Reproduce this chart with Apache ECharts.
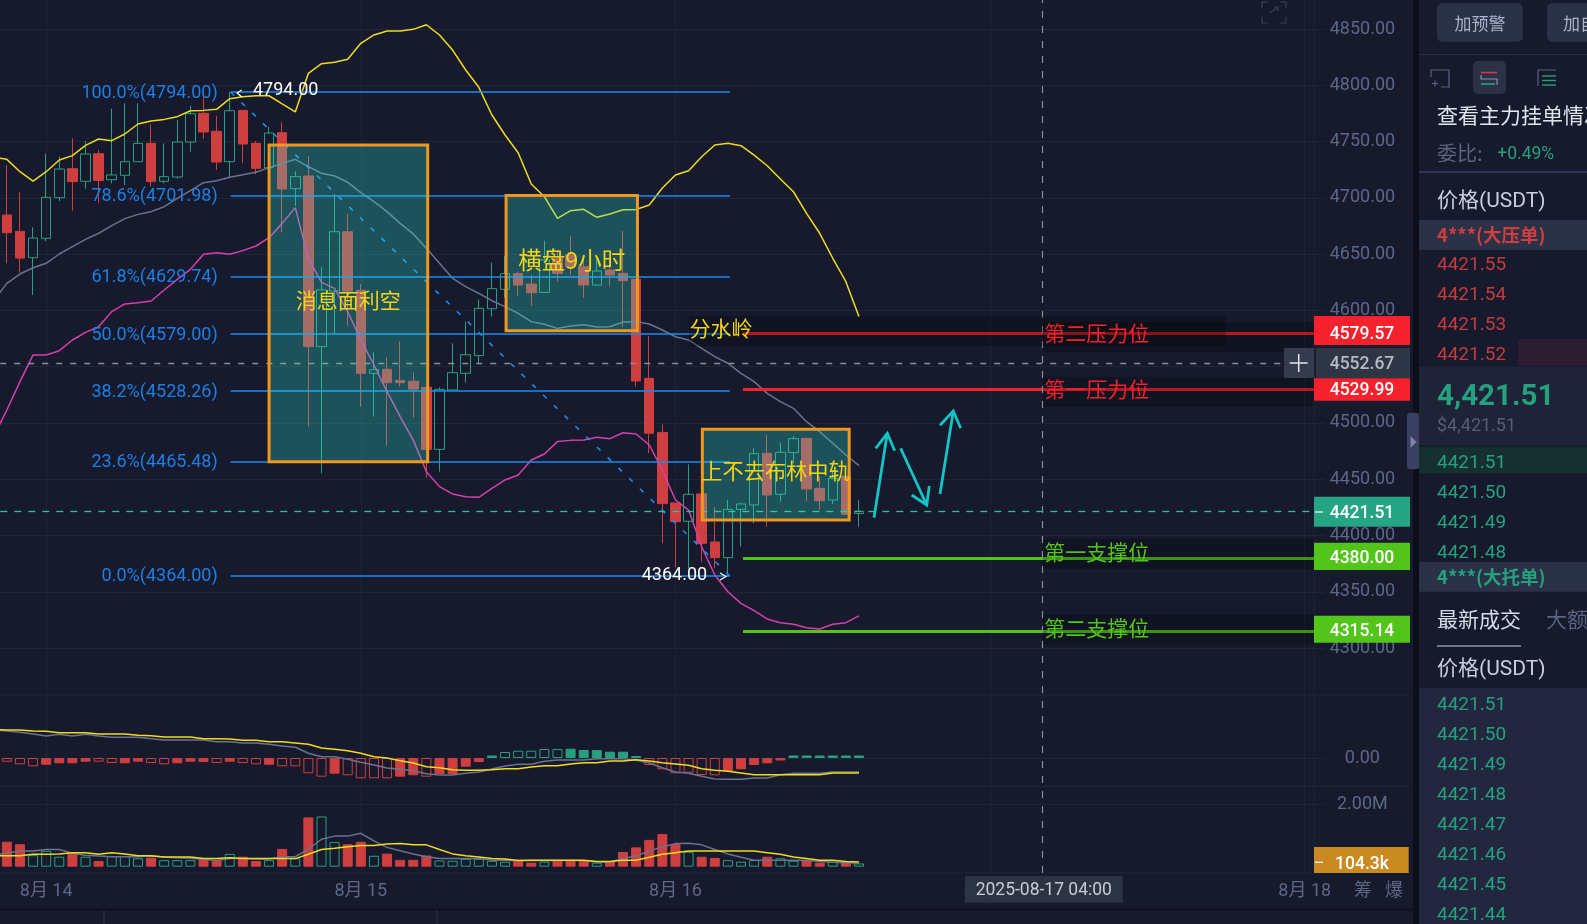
<!DOCTYPE html>
<html><head><meta charset="utf-8">
<style>html,body{margin:0;padding:0;background:#161a2c;overflow:hidden}#c{width:1587px;height:924px}</style>
<script src="https://cdn.jsdelivr.net/npm/echarts@6/dist/echarts.min.js"></script>
</head><body><div id="c"></div>
<script>
// ---- data ----
const tickIdx=[3,27,51,75,99];
const tickLabels=['8月 14','8月 15','8月 16','8月 17','8月 18'];
const opens=[4684.7,4670.2,4646.8,4664.0,4700.1,4725.9,4714.7,4739.2,4716.1,4720.0,4732.1,4748.4,4714.7,4718.5,4749.6,4775.1,4759.1,4732.1,4777.7,4748.4,4726.8,4757.9,4708.1,4719.4,4567.8,4617.2,4669.9,4617.8,4544.1,4547.6,4537.8,4537.0,4531.6,4476.5,4529.3,4544.1,4559.8,4601.5,4618.7,4632.6,4623.4,4616.0,4646.2,4649.2,4638.8,4622.5,4635.9,4632.9,4627.6,4539.6,4491.6,4428.9,4412.6,4436.9,4394.2,4380.3,4423.2,4427.1,4473.0,4436.6,4473.6,4486.3,4441.9,4431.5,4452.8,4419.5];
const closes=[4669.0,4646.5,4664.3,4700.4,4725.6,4714.4,4738.9,4715.5,4720.3,4732.1,4748.4,4714.4,4718.8,4749.6,4774.8,4758.5,4731.8,4777.4,4747.8,4726.2,4757.6,4707.8,4718.8,4567.8,4618.1,4669.9,4617.2,4544.1,4547.3,4535.8,4535.8,4530.1,4476.5,4529.8,4544.7,4560.6,4601.8,4619.3,4632.6,4622.5,4615.7,4644.8,4632.9,4638.8,4622.5,4635.0,4631.4,4626.4,4537.3,4490.8,4428.3,4412.3,4436.6,4393.0,4380.3,4423.2,4428.0,4472.7,4436.0,4473.9,4486.0,4441.3,4430.9,4450.8,4418.8,4421.51];
const lows=[4641.8,4633.5,4613.7,4661.6,4697.2,4688.6,4708.1,4695.1,4712.9,4711.4,4732.1,4709.9,4712.9,4717.0,4741.0,4752.3,4724.7,4718.2,4730.6,4720.9,4726.2,4669.3,4692.7,4496.7,4455.2,4579.6,4586.1,4514.4,4505.6,4479.5,4532.2,4504.7,4451.7,4456.7,4529.3,4535.8,4553.2,4594.4,4611.6,4612.8,4603.9,4615.7,4625.5,4631.4,4611.3,4622.5,4621.7,4585.5,4532.2,4473.0,4393.0,4371.7,4370.8,4376.7,4370.8,4364.0,4390.1,4410.8,4407.8,4430.0,4464.1,4430.6,4422.6,4428.0,4418.2,4407.8];
const highs=[4729.2,4704.9,4673.8,4738.9,4736.6,4752.9,4750.5,4742.5,4779.2,4784.0,4784.0,4765.3,4748.4,4769.1,4781.9,4789.3,4773.0,4794.0,4777.7,4750.5,4763.2,4767.1,4723.5,4737.2,4638.2,4703.4,4685.6,4623.4,4562.7,4558.3,4572.8,4544.9,4531.6,4531.6,4570.7,4590.0,4609.8,4642.4,4648.3,4634.4,4631.4,4661.9,4653.6,4666.1,4646.2,4644.8,4644.8,4670.5,4627.6,4577.2,4498.8,4428.9,4463.2,4436.9,4425.0,4431.5,4429.2,4477.4,4489.3,4482.5,4488.4,4486.3,4452.3,4458.2,4452.8,4431.5];
// the first value of each line belongs to the bar just off the left edge (bar -1)
const bollUpper=[4736,4734.2,4723.2,4714.9,4723.2,4733.6,4737.5,4746.6,4752.3,4750.8,4756.7,4765.6,4768.3,4769.7,4772.1,4777.4,4777.7,4778.6,4788.1,4789.8,4790.7,4790.7,4783.4,4776.3,4810.6,4819.2,4820.4,4823.1,4837.3,4844.7,4848.2,4848.2,4849.7,4853.8,4844.7,4831.3,4813.6,4798.2,4773.6,4755.8,4740.1,4712.3,4701.0,4681.8,4688.6,4689.8,4682.7,4685.6,4689.4,4689.6,4693.6,4708.7,4720.3,4724.1,4736.5,4746.9,4748.4,4746.3,4738.0,4728.5,4716.7,4705.4,4686.2,4668.5,4646.3,4625.5,4594.4];
const bollMid=[4609,4624.0,4632.3,4637.9,4641.8,4650.1,4656.6,4663.1,4668.5,4675.3,4681.5,4685.3,4687.7,4692.1,4699.5,4706.4,4713.5,4715.2,4718.2,4720.6,4722.7,4726.8,4730.6,4734.2,4727.7,4721.8,4719.4,4713.8,4704.6,4696.6,4687.7,4677.3,4667.9,4655.1,4641.8,4628.5,4621.1,4615.1,4608.6,4603.3,4597.4,4590.0,4587.6,4584.0,4586.1,4587.3,4585.2,4585.5,4589.7,4590.0,4587.9,4582.6,4576.6,4573.7,4566.3,4558.9,4553.0,4544.1,4536.7,4526.3,4518.9,4513.0,4501.1,4492.2,4481.9,4471.5,4462.0];
const bollLower=[4488,4511.5,4536.7,4560.4,4560.4,4564.2,4573.7,4580.5,4585.5,4598.9,4605.7,4606.8,4608.3,4618.1,4627.6,4636.5,4649.8,4651.3,4649.8,4653.1,4657.2,4664.6,4677.3,4691.3,4646.2,4624.9,4619.6,4598.9,4573.7,4551.5,4527.8,4505.6,4484.8,4456.7,4443.4,4436.9,4434.5,4433.9,4441.9,4449.3,4453.7,4467.1,4472.4,4483.4,4484.5,4484.8,4487.2,4486.0,4491.3,4490.2,4480.4,4458.2,4431.5,4422.6,4390.0,4364.9,4350.0,4339.7,4333.2,4325.8,4322.5,4321.1,4318.1,4316.9,4321.1,4322.5,4328.5];
const macdHist=[-3.7,-6.3,-8.3,-6.7,-5.3,-5.3,-3.7,-3.7,-5,-5.3,-3.7,-5,-6.3,-5.3,-3.7,-4,-5,-3.7,-5,-6.3,-6.7,-8.3,-8.3,-15.3,-18.7,-15.7,-17.3,-20.3,-20.3,-20.3,-18.7,-17.3,-18.7,-16,-16,-8.7,-4,2.5,6,7.3,7.3,9,9,9.3,8,8,6.3,6.3,2,-7,-11.3,-15.3,-14.7,-17,-17.3,-13,-11.3,-7,-5.3,-2.5,2.5,2.5,2.5,2.5,2.5,2.5];
const macdHollow=[1,1,1,0,0,0,0,1,1,0,0,1,1,0,0,0,1,0,1,1,0,1,1,1,1,0,1,1,1,1,0,0,1,0,0,0,0,0,1,1,1,1,1,0,0,0,0,0,0,1,1,1,1,1,1,0,0,0,0,0,0,0,0,0,0,0];
const dif=[28.5,28,28,27,26.7,25.3,25.3,25.3,24,24,24,22.7,22.3,21,21,21,19.3,19.3,19,17.7,17.7,16.3,16.3,15,13.7,10,8.7,7.3,4.7,1.3,0,-2.7,-5,-8.7,-9.7,-11.7,-12.3,-12.3,-11.7,-10.7,-10.7,-9,-7.7,-7.7,-6,-4.7,-4.7,-3,-3,-1.7,-3,-4.7,-6,-7.3,-10.7,-12.3,-13.3,-15,-16.7,-16.7,-16.7,-16.7,-16.7,-16.7,-15,-15,-15];
const dea=[28,27,25.7,24,22,23.7,22,23.7,22,20.7,20.7,20.7,19.3,18,18,18,18,16.3,16.3,15,15,13.7,12,10.7,4.7,1.3,1.3,-1.3,-4.3,-7,-10,-11.3,-12.7,-15.7,-17,-17,-15.3,-14,-11,-8,-6.3,-6.3,-3.3,-2,-2,-2,-0.7,-0.7,-0.7,-2,-5,-9.7,-14,-15.3,-18.3,-21,-21.3,-21.3,-20,-20,-16.7,-15.3,-15.3,-15.3,-14,-14,-14];
const volumes=[.80,.72,.37,.51,.32,.41,.32,.18,.34,.34,.27,.29,.21,.21,.21,.24,.21,.41,.32,.18,.21,.57,.27,1.58,1.61,.79,.72,.80,.35,.42,.22,.22,.36,.20,.19,.25,.25,.19,.16,.19,.13,.16,.18,.18,.21,.13,.18,.47,.62,.86,1.05,.73,.48,.32,.28,.21,.16,.21,.32,.27,.19,.21,.13,.16,.14,.104];
const volMa1=[.38,.43,.50,.50,.55,.55,.43,.37,.34,.32,.32,.32,.34,.31,.29,.27,.24,.20,.26,.26,.25,.25,.32,.32,.56,.88,.98,.98,1.07,.83,.62,.51,.41,.32,.26,.26,.26,.26,.21,.21,.20,.20,.20,.20,.20,.20,.15,.15,.26,.35,.50,.64,.74,.75,.70,.55,.41,.30,.21,.21,.21,.21,.21,.17,.14,.13,.11];
const volMa2=[.35,.35,.35,.40,.40,.41,.45,.45,.40,.45,.41,.35,.35,.31,.31,.31,.26,.26,.29,.26,.26,.26,.26,.26,.40,.55,.59,.64,.68,.68,.73,.74,.70,.70,.55,.41,.35,.31,.26,.25,.20,.21,.21,.21,.21,.21,.17,.17,.21,.21,.30,.40,.45,.50,.50,.50,.50,.50,.50,.45,.40,.31,.26,.21,.21,.17,.15];
const fibPrices=[4794,4701.98,4629.74,4579,4528.26,4465.48,4364];
const fibLabels=['100.0%(4794.00)','78.6%(4701.98)','61.8%(4629.74)','50.0%(4579.00)','38.2%(4528.26)','23.6%(4465.48)','0.0%(4364.00)'];
const levelPrices=[4579.57,4529.99,4380,4315.14];
const levelColors=['#f5222d','#f5222d','#52c41a','#52c41a'];
const lastPrice=4421.51, crossPrice=4552.67, crossIndex=79;
const askRows=['4421.55','4421.54','4421.53','4421.52'];
const bidRows=['4421.51','4421.50','4421.49','4421.48'];
const tradeRows=['4421.51','4421.50','4421.49','4421.48','4421.47','4421.46','4421.45','4421.44'];

const categories=[];
for(let i=0;i<101;i++){const h=21+i;const d=13+Math.floor(h/24);categories.push('08-'+d+' '+String(h%24).padStart(2,'0')+':00');}

// ---- styles ----
const BG='#161a2c',GRID='#1f2438',RED='#cf3f3f',GREEN='#26a17f',YEL='#f0dc1e',GRAY='#6b7390',PINK='#d740ab',FIB='#1a8cf0',AXIS='#5d6786',NOTE='#f5d414';
const FF='Roboto,"Noto Sans CJK SC",sans-serif';
const CJK='"Noto Sans CJK SC",Roboto,sans-serif';
const isTick=i=>tickIdx.includes(i);

const T=(text,x,y,o={})=>({type:'text',silent:true,z:o.z||50,style:{text,x,y:y+(o.f?0:2),fill:o.c||'#fff',font:(o.w||'normal')+' '+(o.s||18)+'px '+(o.f||FF),textAlign:o.a||'left',textVerticalAlign:'middle'}});
const R=(x,y,w,h,c,z=30,r=0)=>({type:'rect',silent:true,z,shape:{x,y,width:w,height:h,r},style:{fill:c}});
const P=(pts,c,lw=1.2,z=45)=>({type:'polyline',silent:true,z,shape:{points:pts},style:{stroke:c,lineWidth:lw,fill:null}});

const ARROW='#12c4c4';
const g=[
 // dark bands behind level lines
 R(689,316,537,30,'rgba(0,0,0,.25)',7),R(1043,322,271,30,'rgba(0,0,0,.25)',7),
 R(1043,376.7,271,29.5,'rgba(0,0,0,.25)',7),R(1043,539,271,30,'rgba(0,0,0,.25)',7),R(1043,614.5,271,30,'rgba(0,0,0,.25)',7),
 // dividers
 P([[1314,0],[1314,873]],GRID,1,1),P([[0,695],[1410,695]],GRID,1,1),P([[0,786.5],[1410,786.5]],GRID,1,1),P([[0,873],[1410,873]],GRID,1,1),
 P([[0,909.5],[1413,909.5]],'#0d101b',1.5,1),P([[104,910],[104,924]],'#2c3150',1,1),P([[437,910],[437,924]],'#2c3150',1,1),
 // expand icon
 P([[1262,8],[1262,2],[1268,2]],'#3a4157',1.2),P([[1280,2],[1286,2],[1286,8]],'#3a4157',1.2),P([[1262,17],[1262,23],[1268,23]],'#3a4157',1.2),P([[1280,23],[1286,23],[1286,17]],'#3a4157',1.2),P([[1270,13],[1278,7]],'#3a4157',1.2),P([[1274,7],[1278,7],[1278,11]],'#3a4157',1.2),
 // notes on chart
 T('消息面利空',348.3,300,{c:NOTE,s:21,f:CJK,a:'center'}),
 T('横盘9小时',571.7,260.3,{c:NOTE,s:23.5,f:CJK,a:'center'}),
 T('上不去布林中轨',775.5,471,{c:NOTE,s:21.2,f:CJK,a:'center'}),
 T('分水岭',721,328.3,{c:NOTE,s:21,f:CJK,a:'center'}),
 T('第二压力位',1096.8,333,{c:'#f5222d',s:21,f:CJK,a:'center'}),
 T('第一压力位',1096.8,389,{c:'#f5222d',s:21,f:CJK,a:'center'}),
 T('第一支撑位',1096.8,552.3,{c:'#52c41a',s:21,f:CJK,a:'center'}),
 T('第二支撑位',1096.8,627.7,{c:'#52c41a',s:21,f:CJK,a:'center'}),
 T('4794.00',253,88,{s:18}),T('4364.00',641.7,573,{s:18}),
 P([[241.7,90],[237,93],[241.7,96.7]],'#fff',1.2),P([[720,573],[726,576.5],[720,580]],'#fff',1.2),
 // arrows
 P([[874,517.7],[887.3,433.3]],ARROW,2.8),P([[875.7,448.3],[887.3,433.3],[894.7,450.7]],ARROW,2.8),
 P([[900.7,448.3],[926.7,505]],ARROW,2.8),P([[911.7,495],[926.7,505],[929.3,486]],ARROW,2.8),
 P([[940,494],[953.3,411]],ARROW,2.8),P([[940,425.3],[953.3,411],[960.7,428.3]],ARROW,2.8),
 // price tags
 R(1314,316,96,29,'#f5222d'),T('4579.57',1362,333,{a:'center',s:17.5,w:500}),
 R(1284,348,30,30,'#343b4d'),R(1316,348,94,30,'#2e3545'),T('4552.67',1362,363,{a:'center',s:17.5,c:'#b4bac8',w:500}),
 P([[1289.7,363],[1307.7,363]],'#e6e8ee',1.5),P([[1298.7,354],[1298.7,372]],'#e6e8ee',1.5),
 R(1314,378.3,96,22.4,'#f5222d',31),T('4529.99',1362,388.7,{a:'center',s:17.5,w:500}),
 R(1314,496.7,96,30,'#26a585'),P([[1315,512],[1323,512]],'#fff',1.2,46),T('4421.51',1362,511.7,{a:'center',s:17.5,w:500}),
 R(1314,542.7,96,27.3,'#52c41a'),T('4380.00',1362,557,{a:'center',s:17.5,w:500}),
 R(1314,615.7,96,27,'#52c41a'),T('4315.14',1362,630,{a:'center',s:17.5,w:500}),
 R(1314,847,94.7,26,'#c98a22'),P([[1315,862.3],[1323,862.3]],'#fff',1.2,46),T('104.3k',1362,862.3,{a:'center',s:17.5,w:500}),
 // crosshair time tag
 R(965,876,157.7,26.7,'rgba(46,53,69,.96)'),T('2025-08-17 04:00',1043.8,888.5,{a:'center',s:17.5,c:'#c5cbd8'}),
 T('筹',1363,889,{a:'center',s:18,c:'#5d6786',f:CJK}),T('爆',1394,889,{a:'center',s:18,c:'#5d6786',f:CJK}),
 // right panel
 R(1413,0,6,924,'#0c0f1a',60),R(1419,0,168,924,BG,60),
 R(1407,412.7,12,56.5,'#394061',61,3),{type:'polygon',silent:true,z:62,shape:{points:[[1410.5,436],[1416.5,442],[1410.5,448]]},style:{fill:'#7a84a5'}},
 R(1437,3.3,85.7,38.4,'#2b3147',61,5),T('加预警',1480,24,{a:'center',s:17,c:'#aab4cc',f:CJK,z:70}),
 R(1547,3.3,60,38.4,'#2b3147',61,5),T('加自选',1563,24,{s:17,c:'#aab4cc',f:CJK,z:70}),
 P([[1419,54.5],[1587,54.5]],'#2a3048',1,61),
 P([[1431,77],[1431,70],[1449,70],[1449,87],[1441,87]],'#5a6280',1.2,61),P([[1432,83.5],[1438,83.5]],'#5a6280',1.2,61),P([[1435,80.5],[1435,86.5]],'#5a6280',1.2,61),
 R(1473,61,33,33,'#2b3147',61,5),P([[1481,72.5],[1497,72.5]],'#cf3f3f',1.6,62),P([[1481,75],[1481,79],[1497,79],[1497,85]],'#8a93ab',1.2,62),P([[1481,84],[1495,84]],'#26a17f',1.6,62),
 P([[1538,86],[1538,70],[1556,70]],'#5a6280',1.2,61),P([[1542,76],[1556,76]],'#26a17f',1.4,61),P([[1542,80.5],[1556,80.5]],'#26a17f',1.4,61),P([[1542,85],[1556,85]],'#26a17f',1.4,61),
 T('查看主力挂单情况',1437,114.7,{s:21,c:'#dfe4ef',f:CJK,z:70}),
 T('委比:',1437,153,{s:20,c:'#5c6480',f:CJK,z:70}),T('+0.49%',1497.3,153,{s:17.5,c:GREEN,z:70}),
 P([[1419,172],[1587,172]],'#3a4160',1.5,61),
 T('价格(USDT)',1437,200,{s:21,c:'#c8cee0',z:70}),
 R(1419,220,168,30,'#2b3147',61),T('4***(大压单)',1437,235,{s:18.5,w:'bold',c:RED,f:CJK,z:70}),
 R(1518,339,69,26.7,'#2c1d30',61),
 R(1419,366.7,168,78.3,'#1e2337',61),T('4,421.51',1437,395.7,{s:29.5,w:'bold',c:GREEN,z:70}),T('$4,421.51',1437,424,{s:18,c:'#555d78',z:70}),
 R(1419,446.7,168,26.6,'#16302f',61),
 R(1419,562,168,29.7,'#2b3147',61),T('4***(大托单)',1437,577,{s:18.5,w:'bold',c:GREEN,f:CJK,z:70}),
 T('最新成交',1437,619.3,{s:21,c:'#d8dcea',f:CJK,z:70}),T('大额',1546,619.3,{s:21,c:'#5b6480',f:CJK,z:70}),
 P([[1437,646],[1521,646]],'#c8cee0',1,61),
 T('价格(USDT)',1437,667.3,{s:21,c:'#c8cee0',z:70}),
 R(1419,688,168,236,'#22273f',61),
];
askRows.forEach((t,i)=>g.push(T(t,1437,263+30*i,{s:19,c:'#c43c3e',z:70})));
bidRows.forEach((t,i)=>g.push(T(t,1437,461+30*i,{s:19,c:GREEN,z:70})));
tradeRows.forEach((t,i)=>g.push(T(t,1437,703.5+30*i,{s:19,c:GREEN,z:70})));

// ---- annotation marks: x in bar numbers on a hidden value axis, so they may fall between bars ----
const fibStart=17.07, fibEnd=55.16, levelStart=56.15, edge=100;
const fibLines=fibPrices.map((p,i)=>[
 {coord:[fibStart,p],lineStyle:{color:FIB,width:1.6,type:'solid'},label:{show:true,position:'start',distance:13,offset:[0,1],formatter:fibLabels[i],color:'#1b7fe6',fontSize:18,fontFamily:FF}},
 {coord:[fibEnd,p]}]);
const diag=[[{coord:[fibStart,fibPrices[0]],lineStyle:{color:FIB,width:1.6,type:[5,10]},label:{show:false}},{coord:[fibEnd,fibPrices[6]]}]];
const levelLines=levelPrices.map((p,i)=>[
 {coord:[levelStart,p],lineStyle:{color:levelColors[i],width:3.2,type:'solid'},label:{show:false}},{coord:[edge,p]}]);
const crossLine=[[{coord:[-0.5,crossPrice]},{coord:[97.5,crossPrice]}]];
const lastLine=[[{coord:[-0.5,lastPrice]},{coord:[edge,lastPrice]}]];
const boxStyle={color:'rgba(54,230,212,.28)',borderColor:'#f0971f',borderWidth:3};
const boxes=[[20,4747,32.1,4465.48],[38.08,4701.98,48.1,4582],[53.05,4494.3,64.25,4413.7]].map(b=>[{coord:[b[0],b[1]],itemStyle:boxStyle},{coord:[b[2],b[3]]}]);

// line series sit on hidden value axes: their first point is bar -1, clipped at the left edge
const lineS=(name,values,color,gi)=>({name,type:'line',data:values.map((v,i)=>[i-1,v]),xAxisIndex:gi+4,yAxisIndex:gi,symbol:'none',showSymbol:false,lineStyle:{color,width:1.5},z:4,silent:true,clip:true});
const hist=macdHist.map((v,i)=>{const c=v>0?GREEN:RED;return {value:v,itemStyle:macdHollow[i]?{color:'transparent',borderColor:c,borderWidth:1}:{color:c,borderColor:c,borderWidth:1}};});
const vols=volumes.map((v,i)=>{const up=closes[i]>=opens[i];return {value:v,itemStyle:up?{color:'transparent',borderColor:GREEN,borderWidth:1}:{color:RED,borderColor:RED,borderWidth:1}};});
const candles=opens.map((o,i)=>[o,closes[i],lows[i],highs[i]]);
const hidX=i=>({type:'category',gridIndex:i,data:categories,show:false});
const valX=i=>({type:'value',gridIndex:i,min:-0.5,max:100.5,show:false});
const gridL=.3, gridW=1324.11;
const labelCommon={margin:38,align:'center',color:AXIS,fontSize:18,fontFamily:FF,padding:[8,0,0,0]};
const priceLine=(name,data,color,dash)=>({name,type:'line',xAxisIndex:4,yAxisIndex:0,data:[],symbol:'none',silent:true,
 markLine:{silent:true,z:6,symbol:['none','none'],animation:false,label:{show:false},lineStyle:{color,width:1.3,type:dash},emphasis:{disabled:true},data}});

const chart=echarts.init(document.getElementById('c'),null,{renderer:'canvas',width:1587,height:924});
chart.setOption({
 animation:false,backgroundColor:BG,
 grid:[
  {left:gridL,width:gridW,top:0,height:704.3},
  {left:gridL,width:gridW,top:728,height:60},
  {left:gridL,width:gridW,top:804.3,height:62.4},
  {left:6.855,width:1311,top:0,height:873}],
 xAxis:[hidX(0),hidX(1),hidX(2),
  {type:'category',gridIndex:3,data:categories,boundaryGap:false,axisLine:{show:false},axisTick:{show:false},
   axisLabel:{interval:i=>isTick(i),formatter:(v,i)=>tickLabels[tickIdx.indexOf(i)]||'',color:AXIS,fontSize:18,fontFamily:FF,margin:10},
   splitLine:{show:true,interval:i=>isTick(i),lineStyle:{color:GRID,width:1}}},
  valX(0),valX(1),valX(2)],
 yAxis:[
  {type:'value',gridIndex:0,position:'right',min:4250,max:4875.77,interval:50,axisLine:{show:false},axisTick:{show:false},
   axisLabel:{...labelCommon,showMinLabel:false,showMaxLabel:false,formatter:v=>v.toFixed(2)},
   splitLine:{show:true,showMinLine:false,showMaxLine:false,lineStyle:{color:GRID,width:1}}},
  {type:'value',gridIndex:1,position:'right',min:-30,max:30,interval:30,axisLine:{show:false},axisTick:{show:false},
   axisLabel:{...labelCommon,showMinLabel:false,showMaxLabel:false,formatter:v=>v.toFixed(2)},
   splitLine:{show:true,showMinLine:false,showMaxLine:false,lineStyle:{color:GRID,width:1}}},
  {type:'value',gridIndex:2,position:'right',min:0,max:2,interval:2,axisLine:{show:false},axisTick:{show:false},
   axisLabel:{...labelCommon,showMinLabel:false,formatter:v=>v.toFixed(2)+'M'},
   splitLine:{show:true,showMinLine:false,lineStyle:{color:GRID,width:1}}},
  {type:'value',gridIndex:3,min:0,max:1,show:false}],
 series:[
  {name:'K',type:'candlestick',xAxisIndex:0,yAxisIndex:0,barWidth:10,z:2,silent:true,
   data:candles,
   itemStyle:{color:'transparent',color0:RED,borderColor:GREEN,borderColor0:RED,borderWidth:1}},
  lineS('UB',bollUpper,YEL,0),lineS('BOLL',bollMid,GRAY,0),lineS('LB',bollLower,PINK,0),
  {name:'notes',type:'line',xAxisIndex:4,yAxisIndex:0,data:[],symbol:'none',silent:true,
   markArea:{silent:true,z:20,data:boxes},
   markLine:{silent:true,z:5,symbol:['none','none'],animation:false,data:[...fibLines,...diag,...levelLines]}},
  priceLine('last',lastLine,'#2bc09a',[7,7]),
  priceLine('crossH',crossLine,'#8b8f99',[6,8]),
  {name:'MACD',type:'bar',xAxisIndex:1,yAxisIndex:1,barWidth:10,data:hist,silent:true},
  lineS('DIF',dea,GRAY,1),lineS('DEA',dif,YEL,1),
  {name:'VOL',type:'bar',xAxisIndex:2,yAxisIndex:2,barWidth:10,data:vols,silent:true},
  lineS('MA5',volMa1,GRAY,2),lineS('MA10',volMa2,YEL,2),
  {name:'cross',type:'line',xAxisIndex:3,yAxisIndex:3,data:[],symbol:'none',silent:true,
   markLine:{silent:true,symbol:['none','none'],animation:false,label:{show:false},data:[{xAxis:crossIndex,lineStyle:{color:'#8b8f99',width:1.2,type:[7,8]}}]}}
 ],
 graphic:{elements:g}
});
</script></body></html>
